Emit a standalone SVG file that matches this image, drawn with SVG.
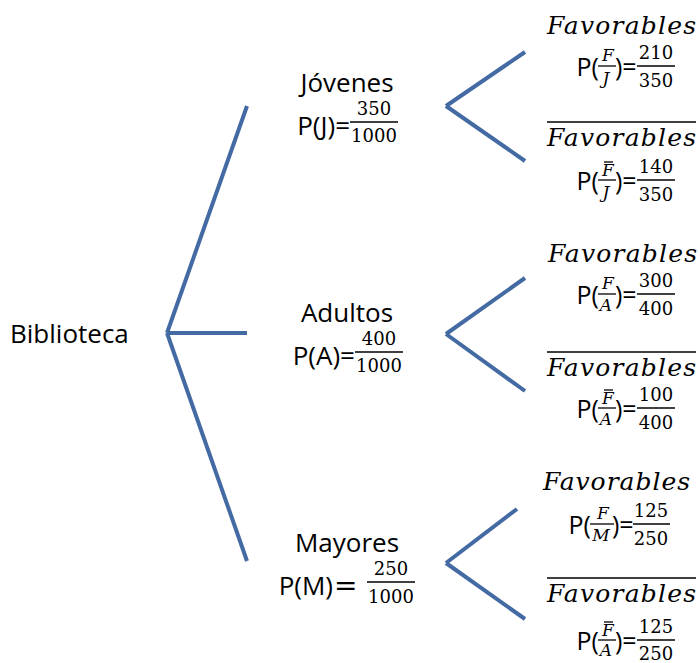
<svg xmlns="http://www.w3.org/2000/svg" width="700" height="663" viewBox="0 0 700 663">
  <style>
    .lbl { font-family: "Open Sans", "Liberation Sans", sans-serif; font-size: 26px; fill: #000; }
    .sm { font-family: "Open Sans", "Liberation Sans", sans-serif; font-size: 25px; fill: #000; }
    .num { font-family: "DejaVu Serif", "Liberation Serif", serif; font-size: 18px; fill: #000; text-anchor: middle; }
    .fav { font-family: "DejaVu Serif", "Liberation Serif", serif; font-style: italic; font-size: 25px; fill: #000; }
    .var { font-family: "DejaVu Serif", "Liberation Serif", serif; font-style: italic; font-size: 17px; fill: #000; text-anchor: middle; }
    .bar { stroke: #000; stroke-width: 1.3; }
    .edge { stroke: #436AA3; stroke-width: 4; fill: none; }
  </style>

  <!-- tree branches -->
  <g id="connectors">
    <line class="edge" x1="167" y1="333" x2="247" y2="106"/>
    <line class="edge" x1="167" y1="333" x2="247" y2="333"/>
    <line class="edge" x1="167" y1="333" x2="247" y2="561"/>
    <line class="edge" x1="446" y1="106" x2="525" y2="52"/>
    <line class="edge" x1="446" y1="106" x2="525" y2="161"/>
    <line class="edge" x1="446" y1="334" x2="525" y2="278"/>
    <line class="edge" x1="446" y1="334" x2="525" y2="391"/>
    <line class="edge" x1="446" y1="563" x2="517" y2="509"/>
    <line class="edge" x1="446" y1="563" x2="525" y2="619"/>
  </g>

  <!-- root -->
  <g id="biblioteca">
    <text class="lbl" x="10" y="343">Biblioteca</text>
  </g>

  <!-- second level -->
  <g id="jovenes">
    <text class="lbl" x="347" y="92" text-anchor="middle">Jóvenes</text>
    <text class="lbl" x="350" y="135" text-anchor="end">P(J)=</text>
    <line class="bar" x1="350" y1="122" x2="398" y2="122"/>
    <text class="num" x="374" y="115">350</text>
    <text class="num" x="374" y="142">1000</text>
  </g>

  <g id="adultos">
    <text class="lbl" x="347" y="322" text-anchor="middle">Adultos</text>
    <text class="lbl" x="355" y="365" text-anchor="end">P(A)=</text>
    <line class="bar" x1="355" y1="352" x2="403" y2="352"/>
    <text class="num" x="379" y="345">400</text>
    <text class="num" x="379" y="372">1000</text>
  </g>

  <g id="mayores">
    <text class="lbl" x="347" y="552" text-anchor="middle">Mayores</text>
    <text class="lbl" x="333" y="595" text-anchor="end">P(M)</text>
    <text class="lbl" x="334" y="595" style="font-family: 'DejaVu Sans', sans-serif; font-size: 28px;">=</text>
    <line class="bar" x1="367" y1="582" x2="415" y2="582"/>
    <text class="num" x="391" y="575">250</text>
    <text class="num" x="391" y="603">1000</text>
  </g>

  <!-- leaves: Jóvenes -->
  <g id="jovenes-favorables">
    <text class="fav" x="547" y="34" textLength="149" lengthAdjust="spacing">Favorables</text>
    <text class="sm" x="599" y="76" text-anchor="end">P(</text>
    <text class="var" x="608" y="61">F</text>
    <line class="bar" x1="598" y1="66" x2="616" y2="66"/>
    <text class="var" x="606" y="84">J</text>
    <text class="sm" x="615" y="76">)=</text>
    <line class="bar" x1="637" y1="66" x2="675" y2="66"/>
    <text class="num" x="656" y="59">210</text>
    <text class="num" x="656" y="87">350</text>
  </g>

  <g id="jovenes-no-favorables">
    <line class="bar" x1="547" y1="122" x2="696" y2="122"/>
    <text class="fav" x="547" y="146" textLength="149" lengthAdjust="spacing">Favorables</text>
    <text class="sm" x="599" y="190" text-anchor="end">P(</text>
    <line class="bar" x1="604" y1="162" x2="613" y2="162"/>
    <text class="var" x="608" y="176">F</text>
    <line class="bar" x1="598" y1="180" x2="616" y2="180"/>
    <text class="var" x="606" y="198">J</text>
    <text class="sm" x="615" y="190">)=</text>
    <line class="bar" x1="637" y1="180" x2="675" y2="180"/>
    <text class="num" x="656" y="173">140</text>
    <text class="num" x="656" y="201">350</text>
  </g>

  <!-- leaves: Adultos -->
  <g id="adultos-favorables">
    <text class="fav" x="548" y="262" textLength="149" lengthAdjust="spacing">Favorables</text>
    <text class="sm" x="599" y="304" text-anchor="end">P(</text>
    <text class="var" x="608" y="289">F</text>
    <line class="bar" x1="598" y1="294" x2="616" y2="294"/>
    <text class="var" x="606" y="311">A</text>
    <text class="sm" x="615" y="304">)=</text>
    <line class="bar" x1="637" y1="294" x2="675" y2="294"/>
    <text class="num" x="656" y="287">300</text>
    <text class="num" x="656" y="315">400</text>
  </g>

  <g id="adultos-no-favorables">
    <line class="bar" x1="547" y1="352" x2="696" y2="352"/>
    <text class="fav" x="547" y="376" textLength="149" lengthAdjust="spacing">Favorables</text>
    <text class="sm" x="599" y="418" text-anchor="end">P(</text>
    <line class="bar" x1="604" y1="390" x2="613" y2="390"/>
    <text class="var" x="608" y="404">F</text>
    <line class="bar" x1="598" y1="408" x2="616" y2="408"/>
    <text class="var" x="606" y="425">A</text>
    <text class="sm" x="615" y="418">)=</text>
    <line class="bar" x1="637" y1="408" x2="675" y2="408"/>
    <text class="num" x="656" y="401">100</text>
    <text class="num" x="656" y="429">400</text>
  </g>

  <!-- leaves: Mayores -->
  <g id="mayores-favorables">
    <text class="fav" x="543" y="490" textLength="147" lengthAdjust="spacing">Favorables</text>
    <text class="sm" x="591" y="534" text-anchor="end">P(</text>
    <text class="var" x="603" y="519">F</text>
    <line class="bar" x1="590" y1="524" x2="614" y2="524"/>
    <text class="var" x="601" y="541">M</text>
    <text class="sm" x="612" y="534">)=</text>
    <line class="bar" x1="633" y1="524" x2="670" y2="524"/>
    <text class="num" x="651" y="517">125</text>
    <text class="num" x="651" y="545">250</text>
  </g>

  <g id="mayores-no-favorables">
    <line class="bar" x1="547" y1="578" x2="696" y2="578"/>
    <text class="fav" x="547" y="602" textLength="149" lengthAdjust="spacing">Favorables</text>
    <text class="sm" x="599" y="650" text-anchor="end">P(</text>
    <line class="bar" x1="604" y1="622" x2="613" y2="622"/>
    <text class="var" x="608" y="636">F</text>
    <line class="bar" x1="598" y1="640" x2="616" y2="640"/>
    <text class="var" x="606" y="656">A</text>
    <text class="sm" x="615" y="650">)=</text>
    <line class="bar" x1="637" y1="640" x2="675" y2="640"/>
    <text class="num" x="656" y="633">125</text>
    <text class="num" x="656" y="660">250</text>
  </g>
</svg>
